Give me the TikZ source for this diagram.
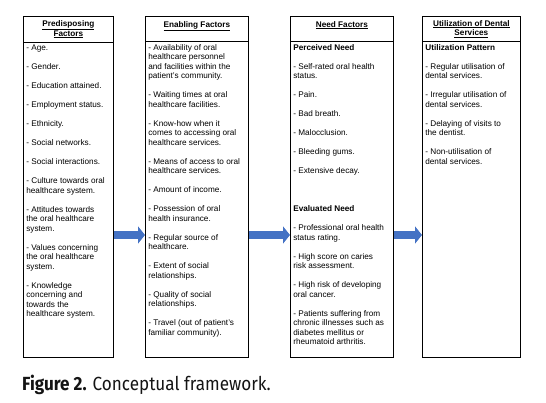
\documentclass[tikz,border=0pt]{standalone}
\usepackage{fontspec}
\setmainfont{Liberation Sans}
\newfontfamily\capfont[FakeStretch=0.9]{Fira Sans}
\usetikzlibrary{arrows.meta, positioning}
\definecolor{flowblue}{RGB}{68, 114, 196}
\definecolor{capblack}{RGB}{20, 20, 20}

\begin{document}
\begin{tikzpicture}[
  x=1pt, y=-1pt,
  every node/.style={font=\fontsize{8.2}{9.5}\selectfont},
  head/.style={
    draw, line width=0.7pt, anchor=north west, align=center,
    inner sep=0pt, font=\fontsize{8.2}{9.5}\selectfont\bfseries
  },
  body/.style={draw, line width=0.7pt, anchor=north west, inner sep=3pt},
  edge/.style={line width=1.5pt},
  flow/.style={line width=8.5pt, color=flowblue, -{Triangle[length=7pt, width=17pt]}},
  caption/.style={anchor=west, inner sep=0pt, text=capblack, font=\capfont\fontsize{19}{21}\selectfont}
]
  \useasboundingbox (0,0) rectangle (546,402);

  % Kopfzeilen der vier Spalten
  \node[head, minimum width=90pt, minimum height=26pt] (prehead) at (23,16) {\underline{Predisposing}\\\underline{Factors}};
  \node[head, minimum width=103pt, minimum height=25pt] (enahead) at (145,16) {\underline{Enabling Factors}\\\mbox{}};
  \node[head, minimum width=103pt, minimum height=25pt] (needhead) at (290,16) {\underline{Need Factors}\\\mbox{}};
  \node[head, minimum width=98pt, minimum height=25pt] (usehead) at (422,16) {\underline{Utilization of Dental}\\\underline{Services}};

  % Listen
  \node[body] (prebody) at (23,42) {\parbox[t][309pt][t]{84pt}{\raggedright
    - Age.\\[9.5pt]
    - Gender.\\[9.5pt]
    - Education attained.\\[9.5pt]
    - Employment status.\\[9.5pt]
    - Ethnicity.\\[9.5pt]
    - Social networks.\\[9.5pt]
    - Social interactions.\\[9.5pt]
    - Culture towards oral\\healthcare system.\\[9.5pt]
    - Attitudes towards\\the oral healthcare\\system.\\[9.5pt]
    - Values concerning\\the oral healthcare\\system.\\[9.5pt]
    - Knowledge\\concerning and\\towards the\\healthcare system.}};
  \node[body] (enabody) at (145,41) {\parbox[t][310pt][t]{97pt}{\raggedright
    - Availability of oral\\healthcare personnel\\and facilities within the\\patient's community.\\[9.5pt]
    - Waiting times at oral\\healthcare facilities.\\[9.5pt]
    - Know-how when it\\comes to accessing oral\\healthcare services.\\[9.5pt]
    - Means of access to oral\\healthcare services.\\[9.5pt]
    - Amount of income.\\[9.5pt]
    - Possession of oral\\health insurance.\\[9.5pt]
    - Regular source of\\healthcare.\\[9.5pt]
    - Extent of social\\relationships.\\[9.5pt]
    - Quality of social\\relationships.\\[9.5pt]
    - Travel (out of patient's\\familiar community).}};
  \node[body] (needbody) at (290,41) {\parbox[t][310pt][t]{97pt}{\raggedright
    \textbf{Perceived Need}\\[9.5pt]
    - Self-rated oral health\\status.\\[9.5pt]
    - Pain.\\[9.5pt]
    - Bad breath.\\[9.5pt]
    - Malocclusion.\\[9.5pt]
    - Bleeding gums.\\[9.5pt]
    - Extensive decay.\\[28.5pt]
    \textbf{Evaluated Need}\\[9.5pt]
    - Professional oral health\\status rating.\\[9.5pt]
    - High score on caries\\risk assessment.\\[9.5pt]
    - High risk of developing\\oral cancer.\\[9.5pt]
    - Patients suffering from\\chronic illnesses such as\\diabetes mellitus or\\rheumatoid arthritis.}};
  \node[body] (usebody) at (422,41) {\parbox[t][310pt][t]{92pt}{\raggedright
    \textbf{Utilization Pattern}\\[9.5pt]
    - Regular utilisation of\\dental services.\\[9.5pt]
    - Irregular utilisation of\\dental services.\\[9.5pt]
    - Delaying of visits to\\the dentist.\\[9.5pt]
    - Non-utilisation of\\dental services.}};

  \foreach \col in {prebody, enabody, needbody, usebody}
    \draw[edge] (\col.north east) -- (\col.south east);

  % Pfeile
  \coordinate (mid) at (0,235);
  \draw[flow] (prebody.east |- mid) -- (enabody.west |- mid);
  \draw[flow] (enabody.east |- mid) -- (needbody.west |- mid);
  \draw[flow] (needbody.east |- mid) -- (usebody.west |- mid);

  \node[caption] (figcap) at (22,385) {\textbf{Figure 2.} Conceptual framework.};
\end{tikzpicture}
\end{document}
